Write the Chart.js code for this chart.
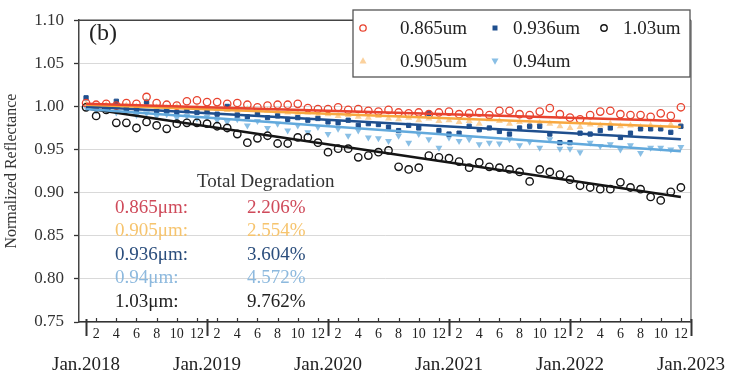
<!DOCTYPE html>
<html>
<head>
<meta charset="utf-8">
<script src="https://cdn.jsdelivr.net/npm/chart.js@4.4.0/dist/chart.umd.min.js"></script>
<style>
  body { margin: 0; background: #fff; }
  #wrap { width: 730px; height: 374px; }
</style>
</head>
<body>
<div id="wrap"><canvas id="chart" width="730" height="374"></canvas></div>
<script>
// month index 1..60 = Jan 2018 .. Dec 2022
const months = Array.from({ length: 60 }, (_, i) => i + 1);
const years = [2018, 2019, 2020, 2021, 2022, 2023];

const r0865 = [1.004, 1.002, 1.003, 1.001, 1.004, 1.003, 1.011, 1.004, 1.002, 1.001, 1.006, 1.007, 1.005, 1.005, 1.003,
  1.004, 1.002, 0.999, 1.001, 1.002, 1.002, 1.003, 0.998, 0.997, 0.997, 0.999, 0.996, 0.997, 0.995, 0.994,
  0.996, 0.993, 0.992, 0.993, 0.991, 0.993, 0.994, 0.991, 0.992, 0.993, 0.990, 0.995, 0.995, 0.991, 0.990,
  0.994, 0.998, 0.991, 0.987, 0.985, 0.990, 0.994, 0.995, 0.991, 0.990, 0.990, 0.988, 0.992, 0.989, 0.999];
const r0905 = [1.003, 1.000, 1.002, 0.999, 1.001, 1.000, 1.006, 0.999, 0.998, 1.000, 0.997, 0.999, 0.996, 0.997, 0.996,
  0.995, 0.997, 0.993, 0.995, 0.994, 0.993, 0.992, 0.993, 0.990, 0.991, 0.989, 0.990, 0.988, 0.987, 0.989,
  0.986, 0.985, 0.987, 0.984, 0.986, 0.983, 0.984, 0.982, 0.983, 0.980, 0.985, 0.983, 0.980, 0.982, 0.979,
  0.981, 0.980, 0.977, 0.975, 0.976, 0.979, 0.978, 0.980, 0.977, 0.978, 0.976, 0.978, 0.975, 0.979, 0.977];
const r0936 = [1.010, 0.999, 0.998, 1.006, 0.997, 0.996, 1.005, 0.994, 0.995, 0.993, 0.995, 0.993, 0.994, 0.991, 1.000,
  0.990, 0.988, 0.991, 0.987, 0.989, 0.985, 0.987, 0.984, 0.986, 0.982, 0.981, 0.984, 0.978, 0.980, 0.979,
  0.976, 0.972, 0.978, 0.975, 0.992, 0.972, 0.968, 0.969, 0.977, 0.973, 0.975, 0.971, 0.968, 0.975, 0.977,
  0.977, 0.968, 0.958, 0.958, 0.969, 0.968, 0.972, 0.975, 0.964, 0.969, 0.974, 0.974, 0.974, 0.970, 0.977];
const r094 = [0.999, 0.995, 0.996, 0.993, 0.994, 0.990, 0.992, 0.989, 0.991, 0.987, 0.989, 0.986, 0.988, 0.984, 0.982,
  0.985, 0.978, 0.983, 0.975, 0.980, 0.972, 0.978, 0.970, 0.976, 0.968, 0.974, 0.966, 0.972, 0.964, 0.963,
  0.960, 0.966, 0.958, 0.968, 0.962, 0.952, 0.964, 0.960, 0.962, 0.956, 0.958, 0.957, 0.962, 0.955, 0.959,
  0.952, 0.962, 0.951, 0.951, 0.947, 0.958, 0.954, 0.956, 0.950, 0.955, 0.946, 0.952, 0.952, 0.950, 0.953];
const r103 = [0.999, 0.989, 0.996, 0.981, 0.981, 0.975, 0.982, 0.978, 0.974, 0.980, 0.981, 0.981, 0.980, 0.977, 0.975,
  0.968, 0.958, 0.963, 0.966, 0.957, 0.957, 0.964, 0.964, 0.958, 0.947, 0.951, 0.951, 0.941, 0.943, 0.947,
  0.949, 0.930, 0.927, 0.929, 0.943, 0.941, 0.940, 0.936, 0.929, 0.935, 0.930, 0.929, 0.927, 0.924, 0.913,
  0.927, 0.924, 0.921, 0.915, 0.908, 0.906, 0.904, 0.904, 0.912, 0.906, 0.904, 0.895, 0.891, 0.901, 0.906];

// linear fits: value at first and last month
const fit0865 = [1.003, 0.983];
const fit0905 = [1.002, 0.976];
const fit0936 = [1.000, 0.962];
const fit094 = [0.997, 0.948];
const fit103 = [0.998, 0.895];

const yTicks = [0.75, 0.80, 0.85, 0.90, 0.95, 1.00, 1.05, 1.10];

const degLabels = ['0.865\u03bcm:', '0.905\u03bcm:', '0.936\u03bcm:', '0.94\u03bcm:', '1.03\u03bcm:'];
const degValues = ['2.206%', '2.554%', '3.604%', '4.572%', '9.762%'];

const serif = "'Liberation Serif', 'Times New Roman', serif";
const colRed = '#e8432f', colOrange = '#f8a840', colNavy = '#1f4f8e', colSky = '#62a9dc', colBlack = '#151515';
const textCols = ['#cf4a5a', '#f6c46e', '#2a4d7c', '#8db9de', '#222'];

// x ticks: every January + even months
const xTickMonths = [];
for (let m = 1; m <= 61; m++) {
    const k = (m - 1) % 12 + 1;
    if (k === 1 || k % 2 === 0) xTickMonths.push(m);
}

const pts = arr => months.map((m, i) => ({ x: m, y: arr[i] }));
const fitPts = f => [{ x: 1, y: f[0] }, { x: 60, y: f[1] }];
const fitLine = (f, c) => ({ data: fitPts(f), showLine: true, borderColor: c, borderWidth: 2.5, pointRadius: 0, fill: false, order: 0 });

const series = [
    { label: '0.865um', data: pts(r0865), pointStyle: 'circle', pointRadius: 3.7, pointBorderWidth: 1.3, borderColor: colRed, backgroundColor: 'rgba(255,255,255,0)', rot: 0 },
    { label: '0.936um', data: pts(r0936), pointStyle: 'rect', pointRadius: 3, pointBorderWidth: 1, borderColor: colNavy, backgroundColor: colNavy, rot: 0 },
    { label: '1.03um', data: pts(r103), pointStyle: 'circle', pointRadius: 3.7, pointBorderWidth: 1.4, borderColor: colBlack, backgroundColor: 'rgba(255,255,255,0)', rot: 0 },
    { label: '0.905um', data: pts(r0905), pointStyle: 'triangle', pointRadius: 4, pointBorderWidth: 0, borderColor: 'rgba(248,178,90,0.6)', backgroundColor: 'rgba(248,178,90,0.6)', rot: 0 },
    { label: '0.94um', data: pts(r094), pointStyle: 'triangle', pointRadius: 4, pointBorderWidth: 0, borderColor: 'rgba(98,169,220,0.75)', backgroundColor: 'rgba(98,169,220,0.75)', rot: 180 }
];

function drawMarker(ctx, s, x, y) {
    ctx.save();
    ctx.strokeStyle = s.borderColor;
    ctx.fillStyle = s.backgroundColor;
    ctx.lineWidth = s.pointBorderWidth || 1;
    const r = s.pointRadius - 0.5;
    ctx.beginPath();
    if (s.pointStyle === 'circle') {
        ctx.arc(x, y, r, 0, Math.PI * 2);
        ctx.stroke();
    } else if (s.pointStyle === 'rect') {
        ctx.rect(x - r, y - r, r * 2, r * 2);
        ctx.fill();
    } else {
        const d = s.rot ? -1 : 1;
        ctx.moveTo(x, y - d * r * 1.1);
        ctx.lineTo(x - r, y + d * r * 0.7);
        ctx.lineTo(x + r, y + d * r * 0.7);
        ctx.closePath();
        ctx.fill();
    }
    ctx.restore();
}

const overlay = {
    id: 'overlay',
    afterDraw(chart) {
        const { ctx, chartArea: a } = chart;
        const x = chart.scales.x;
        ctx.save();
        // top and right frame
        ctx.strokeStyle = '#444';
        ctx.lineWidth = 1.5;
        ctx.beginPath(); ctx.moveTo(a.left, a.top); ctx.lineTo(a.right, a.top); ctx.stroke();
        ctx.strokeStyle = '#777';
        ctx.beginPath(); ctx.moveTo(a.right, a.top); ctx.lineTo(a.right, a.bottom + 1); ctx.stroke();

        // x tick marks
        ctx.strokeStyle = '#333';
        xTickMonths.forEach(m => {
            const px = Math.round(x.getPixelForValue(m)) + 0.5;
            const major = (m - 1) % 12 === 0;
            ctx.lineWidth = major ? 2 : 1.2;
            ctx.beginPath();
            if (major) { ctx.moveTo(px, a.bottom - 3); ctx.lineTo(px, a.bottom + 14); }
            else { ctx.moveTo(px, a.bottom); ctx.lineTo(px, a.bottom - 4); }
            ctx.stroke();
        });

        // panel label
        ctx.fillStyle = '#222';
        ctx.font = '24px ' + serif;
        ctx.textBaseline = 'middle';
        ctx.fillText('(b)', 89, 34);

        // legend
        ctx.fillStyle = '#fff';
        ctx.strokeStyle = '#555';
        ctx.lineWidth = 1.3;
        ctx.fillRect(353, 10, 337, 67);
        ctx.strokeRect(353, 10, 337, 67);
        const slots = [[363, 400, 28], [495, 513, 28], [604, 623, 28], [363, 400, 61], [495, 513, 61]];
        ctx.font = '19px ' + serif;
        series.forEach((s, i) => {
            const [mx, tx, ty] = slots[i];
            drawMarker(ctx, s, mx, ty);
            ctx.fillStyle = '#222';
            ctx.fillText(s.label, tx, ty + 1);
        });

        // degradation table
        ctx.fillStyle = '#333';
        ctx.fillText('Total Degradation', 197, 182);
        degLabels.forEach((t, i) => {
            const y = 208 + i * 23.5;
            ctx.fillStyle = textCols[i];
            ctx.fillText(t, 115, y);
            ctx.fillText(degValues[i], 247, y);
        });
        ctx.restore();
    }
};

new Chart(document.getElementById('chart'), {
    type: 'scatter',
    data: {
        datasets: [
            fitLine(fit0865, colRed),
            fitLine(fit0905, colOrange),
            fitLine(fit0936, colNavy),
            fitLine(fit094, colSky),
            fitLine(fit103, colBlack),
            ...series.map(s => ({
                label: s.label, data: s.data, pointStyle: s.pointStyle, pointRadius: s.pointRadius,
                pointBorderWidth: s.pointBorderWidth, pointBorderColor: s.borderColor,
                pointBackgroundColor: s.backgroundColor, pointRotation: s.rot, showLine: false, order: 1
            }))
        ]
    },
    options: {
        responsive: false,
        animation: false,
        layout: { padding: { top: 10, right: 37, left: 0, bottom: 0 } },
        plugins: { legend: { display: false }, tooltip: { enabled: false } },
        scales: {
            x: {
                type: 'linear', min: 0.3, max: 61,
                afterFit: s => { s.height = 52; },
                afterBuildTicks: s => { s.ticks = xTickMonths.map(v => ({ value: v })); },
                grid: { display: false, drawTicks: false },
                border: { display: true, color: '#333', width: 1.5 },
                ticks: {
                    padding: 5, color: '#222', maxRotation: 0, autoSkip: false,
                    font: c => ((c.tick && (c.tick.value - 1) % 12 === 0) ? { family: serif, size: 19, lineHeight: 1.33 } : { family: serif, size: 14, lineHeight: 1.05 }),
                    callback: v => {
                        const k = (v - 1) % 12 + 1;
                        if (k === 1) return ['', 'Jan.' + years[(v - 1) / 12]];
                        return String(k);
                    }
                }
            },
            y: {
                min: 0.75, max: 1.10,
                afterFit: s => { s.width = 79; },
                afterBuildTicks: s => { s.ticks = yTicks.map(v => ({ value: v })); },
                grid: { color: '#d9d9d9', borderDash: [2, 3], tickBorderDash: [], tickColor: '#333', tickLength: 5, tickWidth: 1.3 },
                border: { display: true, color: '#444', width: 1.5 },
                ticks: { padding: 10, color: '#333', font: { family: serif, size: 17 }, callback: v => v.toFixed(2) },
                title: { display: true, text: 'Normalized Reflectance', color: '#333', font: { family: serif, size: 16 }, padding: { top: 2, bottom: 0 } }
            }
        }
    },
    plugins: [overlay]
});
</script>
</body>
</html>
